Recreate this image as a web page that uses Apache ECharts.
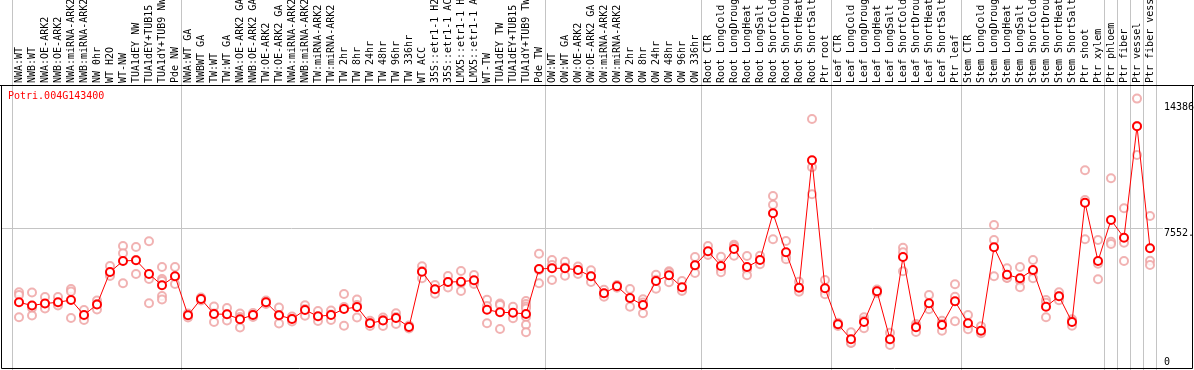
<!DOCTYPE html>
<html>
<head>
<meta charset="utf-8">
<script src="https://cdn.jsdelivr.net/npm/echarts@6/dist/echarts.min.js"></script>
<style>
html,body{margin:0;padding:0;background:#fff;}
#chart{width:1194px;height:370px;}
</style>
</head>
<body>
<div id="chart"></div>
<script>
const geneTitle = 'Potri.004G143400';

const categories = [
  'NWA:WT','NWB:WT','NWA:OE-ARK2','NWB:OE-ARK2','NWA:miRNA-ARK2','NWB:miRNA-ARK2','NW 0hr','WT H2O','WT-NW','TUA1dEY NW','TUA1dEY+TUB15','TUA1dY+TUB9 NW','Pde NW',
  'NWA:WT GA','NWBWT GA','TW:WT','TW:WT GA','NWA:OE-ARK2 GA','NWB:OE-ARK2 GA','TW:OE-ARK2','TW:OE-ARK2 GA','NWA:miRNA-ARK2','NWB:miRNA-ARK2','TW:miRNA-ARK2','TW:miRNA-ARK2',
  'TW 2hr','TW 8hr','TW 24hr','TW 48hr','TW 96hr','TW 336hr','WT ACC','35S::etr1-1 H2','35S::etr1-1 AC','LMX5::etr1-1 H','LMX5::etr1-1 A','WT-TW','TUA1dEY TW','TUA1dEY+TUB15','TUA1dY+TUB9 TW','Pde TW',
  'OW:WT','OW:WT GA','OW:OE-ARK2','OW:OE-ARK2 GA','OW:miRNA-ARK2','OW:miRNA-ARK2','OW 2hr','OW 8hr','OW 24hr','OW 48hr','OW 96hr','OW 336hr',
  'Root CTR','Root LongCold','Root LongDroug','Root LongHeat','Root LongSalt','Root ShortCold','Root ShortDrou','Root ShortHeat','Root ShortSalt','Ptr root',
  'Leaf CTR','Leaf LongCold','Leaf LongDroug','Leaf LongHeat','Leaf LongSalt','Leaf ShortCold','Leaf ShortDrou','Leaf ShortHeat','Leaf ShortSalt','Ptr leaf',
  'Stem CTR','Stem LongCold','Stem LongDroug','Stem LongHeat','Stem LongSalt','Stem ShortCold','Stem ShortDrou','Stem ShortHeat','Stem ShortSalt','Ptr shoot','Ptr xylem',
  'Ptr phloem','Ptr fiber','Ptr vessel','Ptr fiber vess'
];

// indices of categories that start a new group (a grey separator line is drawn before them)
const groupStarts = [0, 13, 41, 53, 63, 73, 84, 85, 86, 87];

const means = [
  3628,3459,3565,3628,3750,2957,3512,5228,5809,5846,5123,4526,5001,
  2942,3802,3010,2994,2730,2957,3628,2942,2746,3221,2889,2957,
  3274,3380,2519,2667,2799,2324,5244,4315,4700,4716,4790,3237,3100,3079,3010,5387,
  5424,5424,5334,5001,4103,4473,3855,3485,4753,5054,4420,5582,
  6321,5545,6443,5492,5862,8328,6269,4399,11127,4367,
  2466,1674,2588,4209,1674,6020,2308,3575,2429,3686,
  2519,2128,6533,5086,4895,5334,3396,3945,2588,8888,5809,
  7974,7040,12922,6480
];

const replicates = [
  [4156,4014,2836],[4146,3327,2931],[3908,3538,3301],[3908,3538,3459],[4330,4198,2799],[3221,2905,2693],[3723,3538,3248],[5545,5123,5017],[6601,6216,4631],[6548,5862,5123],[6849,4858,3575],[5492,4858,4753,3961,3776],[5492,4964,4594],
  [3037,2931,2825],[3882,3802,3723],[3406,3037,2588],[3327,2984,2667],[3037,2852,2297],[3063,2957,2852],[3723,3628,3538],[3353,2957,2508],[2878,2746,2614],[3470,3274,2920],[3169,2852,2641],[3195,2984,2693],
  [4066,3380,2392],[3776,3485,2825],[2656,2519,2376],[2825,2693,2376],[3047,2852,2482],[2403,2324,2244],[5529,5281,4895],[4542,4304,4082],[5017,4700,4410],[5281,4647,4225],[5070,4700,4594],[3765,3433,2519],[3565,3485,2218],[3396,3063,2783],[3697,3538,3406,3301,2852,2445,2044],[6195,5334,4631],
  [5862,5598,4806],[5772,5466,5033],[5519,5334,5123],[5318,4991,4700],[4293,4093,3924],[4542,4473,4399],[4330,3839,3396],[3786,3617,3047],[5086,4822,4346],[5265,5202,4684],[4753,4278,4225],[6020,5545,5175],
  [6601,6232,6126],[6036,5387,5212],[6670,6575,6089],[6073,5350,5054],[6089,5862,5635],[9242,8782,6955],[6865,6036,5899],[4716,4293,4188],[13308,10757,9332],[4806,4241,4051],
  [2551,2466,2376],[2044,1479,1495],[2836,2667,2255],[4304,4209,4119],[2023,1621,1373],[6511,6269,5265],[2482,2376,2060],[4014,3449,3258],[2656,2498,2128],[4579,3924,2630],
  [2957,2392,2202],[2361,2044,1991],[7710,6918,5001],[5424,4911,4927],[5492,4769,4420],[5862,5244,4895],[3750,3607,2836],[4156,3945,3734],[2730,2641,2392],[10599,9031,6955],[6918,5667,4843],
  [10177,6828,6707],[8592,6776,5809],[14386,12938,11407],[8186,5825,5598]
];

const rightTickValues = [0, 7552, 14386];
const rightTickLabels = ['0', '7552.', '14386'];

const FONT = 'DejaVu Sans Mono';

// build scatter data for replicates
const repData = [];
replicates.forEach(function (arr, i) {
  arr.forEach(function (v) { repData.push([i, v]); });
});

const groupSet = {};
groupStarts.forEach(function (i) { groupSet[i] = true; });

const chart = echarts.init(document.getElementById('chart'), null, {renderer: 'canvas'});

const option = {
  animation: false,
  backgroundColor: '#ffffff',
  title: {
    text: geneTitle,
    left: 8,
    top: 91,
    padding: 0,
    textStyle: {color: '#ff0000', fontSize: 10, fontFamily: FONT, fontWeight: 'normal'}
  },
  grid: [
    {left: 12.5, width: 1144, top: 0, height: 371, outerBoundsMode: 'none', containLabel: false},
    {left: 1, width: 1162, top: 85, height: 286, outerBoundsMode: 'none', containLabel: false}
  ],
  xAxis: [
    {
      gridIndex: 0,
      type: 'category',
      data: categories,
      boundaryGap: true,
      position: 'top',
      offset: -85,
      axisLine: {show: false},
      axisTick: {show: false},
      axisLabel: {
        interval: 0,
        rotate: 90,
        margin: 2,
        color: '#000',
        fontSize: 10,
        fontFamily: FONT,
        hideOverlap: false
      },
      splitLine: {
        show: true,
        interval: function (index) { return !!groupSet[index]; },
        lineStyle: {color: '#c4c4c4', width: 1}
      }
    },
    {
      gridIndex: 1,
      type: 'value',
      min: 0, max: 1,
      show: false
    }
  ],
  yAxis: [
    {
      gridIndex: 0,
      type: 'value',
      min: 0,
      max: 19593,
      show: false,
      splitLine: {show: false}
    },
    {
      gridIndex: 1,
      type: 'value',
      position: 'right',
      min: 0,
      max: 15104,
      interval: 7552,
      axisLine: {show: false},
      axisTick: {show: false},
      splitLine: {show: true, lineStyle: {color: '#c4c4c4', width: 1}},
      axisLabel: {
        show: true,
        customValues: rightTickValues,
        margin: 1,
        align: 'left',
        verticalAlign: 'middle',
        color: '#000',
        fontSize: 10,
        fontFamily: FONT,
        formatter: function (v) {
          const idx = rightTickValues.indexOf(v);
          const txt = idx >= 0 ? rightTickLabels[idx] : '';
          if (v === 0) return '{z|' + txt + '}';
          if (v === 7552) return '{m|' + txt + '}';
          return '{t|' + txt + '}';
        },
        rich: {
          z: {fontSize: 10, fontFamily: FONT, color: '#000', padding: [0, 0, 18, 0]},
          m: {fontSize: 10, fontFamily: FONT, color: '#000', padding: [10, 0, 0, 0]},
          t: {fontSize: 10, fontFamily: FONT, color: '#000', padding: [18, 0, 0, 0]}
        }
      }
    }
  ],
  series: [
    {
      name: 'replicates',
      type: 'scatter',
      xAxisIndex: 0,
      yAxisIndex: 0,
      data: repData,
      symbol: 'emptyCircle',
      symbolSize: 8,
      itemStyle: {color: '#ee9f9f', borderColor: '#ee9f9f', borderWidth: 1.1},
      z: 2
    },
    {
      name: 'mean',
      type: 'line',
      xAxisIndex: 0,
      yAxisIndex: 0,
      data: means,
      symbol: 'emptyCircle',
      symbolSize: 8,
      showAllSymbol: true,
      lineStyle: {color: '#ff0000', width: 1},
      itemStyle: {color: '#ff0000', borderColor: '#ff0000', borderWidth: 1.2},
      z: 3
    }
  ],
  graphic: [
    {
      type: 'rect',
      silent: true,
      z: 100,
      shape: {x: 1.5, y: 85.5, width: 1191, height: 283},
      style: {fill: 'none', stroke: '#000', lineWidth: 1}
    },
    {
      type: 'line',
      silent: true,
      z: 100,
      shape: {x1: 0, y1: 85.5, x2: 1194, y2: 85.5},
      style: {stroke: '#000', lineWidth: 1}
    }
  ]
};

chart.setOption(option);
</script>
</body>
</html>
